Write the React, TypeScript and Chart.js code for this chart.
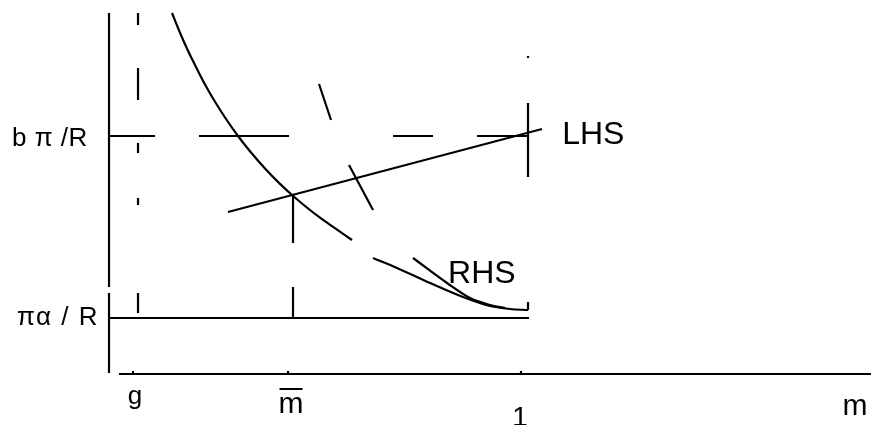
import { useEffect, useRef } from "react";
import Chart from "chart.js/auto";

// ---- value ranges (m on x, level on y) ----
const X_RANGE = [-0.2646, 1.8859];
const Y_RANGE = [-0.2143, 1.5714];

// ---- axes ----
const yAxisUpper: number[][] = [[0, 1.517], [0, 0.366]];
const yAxisLower: number[][] = [[0, 0.34], [0, 0.004]];
const xAxisLine: number[][] = [[0.0243, 0], [1.8495, 0]];

// ---- tick labels ----
const xTickLabels = ["g", "m\u0304", "1"];
const xTickValues = [0.0583, 0.4345, 1.0];
const xAxisTitle = "m";
const xAxisTitleValue = 1.8107;
const yTickLabels = ["b \u03c0 /R", "\u03c0\u03b1 / R"];
const yTickValues = [1.0, 0.2353];

// ---- horizontal levels ----
const piAlphaLine: number[][] = [[0, 0.2353], [1.0194, 0.2353]];
const bPiDashX: number[][] = [[0, 0.1117], [0.2184, 0.4369], [0.6893, 0.7864], [0.8932, 1.017]];

// ---- vertical dashed guides (x, and y-intervals) ----
const gGuideX = 0.0704;
const gGuideY: number[][] = [[1.517, 1.466], [1.286, 1.151], [0.971, 0.929], [0.739, 0.71], [0.34, 0.256]];
const mBarGuideX = 0.4466;
const mBarGuideY: number[][] = [[0.752, 0.55], [0.366, 0.235]];
const oneGuideX = 1.017;
const oneGuideY: number[][] = [[1.336, 1.328], [1.139, 0.828], [0.3025, 0.269]];

// ---- LHS line ----
const lhsLine: number[][] = [[0.2888, 0.6807], [1.051, 1.0294]];
const lhsLabel = "LHS";
const lhsLabelPos = [1.1], lhsLabelY = [1.017];

// ---- RHS curves ----
const rhsUpper: number[][] = [
  [0.1529, 1.5168], [0.1723, 1.4336], [0.1917, 1.358], [0.2087, 1.2983],
  [0.233, 1.2164], [0.2573, 1.1437], [0.2816, 1.0777], [0.3131, 1.0],
  [0.3422, 0.9357], [0.3786, 0.8634], [0.415, 0.7987], [0.4442, 0.7521],
  [0.4757, 0.7059], [0.5121, 0.6567], [0.551, 0.6097], [0.5898, 0.563],
];
const rhsLower: number[][] = [
  [0.6408, 0.4874], [0.699, 0.4454], [0.7791, 0.3824], [0.8592, 0.3235],
  [0.9248, 0.2857], [0.9733, 0.2731], [1.017, 0.2689],
];
const rhsSecond: number[][] = [
  [0.7379, 0.4874], [0.8204, 0.3824], [0.8762, 0.3193], [0.9248, 0.2899], [0.9612, 0.2773],
];
const rhsLabel = "RHS";
const rhsLabelPos = [0.8204], rhsLabelY = [0.4328];

// ---- short dashed diagonal ----
const diagA: number[][] = [[0.5097, 1.2185], [0.5388, 1.0672]];
const diagB: number[][] = [[0.5825, 0.8782], [0.6408, 0.6891]];

const pts = (a: number[][]) => a.map(([x, y]) => ({ x, y }));

export default function App() {
  const ref = useRef<HTMLCanvasElement | null>(null);
  useEffect(() => {
    if (!ref.current) return;
    const segs: { data: { x: number; y: number }[]; smooth?: boolean }[] = [];
    segs.push({ data: pts(yAxisUpper) }, { data: pts(yAxisLower) }, { data: pts(xAxisLine) });
    xTickValues.forEach((v) => segs.push({ data: pts([[v, 0], [v, 0.013]]) }));
    segs.push({ data: pts(piAlphaLine) });
    bPiDashX.forEach(([a, b]) => segs.push({ data: pts([[a, yTickValues[0]], [b, yTickValues[0]]]) }));
    gGuideY.forEach(([a, b]) => segs.push({ data: pts([[gGuideX, a], [gGuideX, b]]) }));
    mBarGuideY.forEach(([a, b]) => segs.push({ data: pts([[mBarGuideX, a], [mBarGuideX, b]]) }));
    oneGuideY.forEach(([a, b]) => segs.push({ data: pts([[oneGuideX, a], [oneGuideX, b]]) }));
    segs.push({ data: pts(lhsLine) });
    segs.push({ data: pts(rhsUpper), smooth: true }, { data: pts(rhsLower), smooth: true }, { data: pts(rhsSecond), smooth: true });
    segs.push({ data: pts(diagA) }, { data: pts(diagB) });

    const labelPlugin = {
      id: "labels",
      afterDatasetsDraw(chart: any) {
        const { ctx, scales } = chart;
        const xs = scales.x, ys = scales.y;
        ctx.save();
        ctx.fillStyle = "#000";
        const draw = (t: string, px: number, py: number, size: number, align: CanvasTextAlign, spacing = 0) => {
          ctx.font = `${size}px "Liberation Sans", Arial, sans-serif`;
          (ctx as any).letterSpacing = `${spacing}px`;
          ctx.textAlign = align;
          ctx.textBaseline = "alphabetic";
          ctx.fillText(t, px, py);
        };
        const base = ys.getPixelForValue(0);
        const xSizes = [26, 30, 28];
        const xBase = [30, 39, 52];
        const xOff = [2, 3, -1];
        xTickLabels.forEach((t, i) => draw(t, xs.getPixelForValue(xTickValues[i]) + xOff[i], base + xBase[i], xSizes[i], "center"));
        // overbar across the full width of m̄
        ctx.font = `30px "Liberation Sans", Arial, sans-serif`;
        (ctx as any).letterSpacing = "0px";
        const mw = ctx.measureText("m").width;
        const mc = xs.getPixelForValue(xTickValues[1]) + xOff[1];
        ctx.fillRect(mc - mw / 2 + 1, base + 14, mw - 2, 2);
        draw(xAxisTitle, xs.getPixelForValue(xAxisTitleValue), base + 41, 30, "center");
        const y0 = xs.getPixelForValue(0);
        draw(yTickLabels[0], y0 - 97, ys.getPixelForValue(yTickValues[0]) + 10, 26, "left", 0.5);
        draw(yTickLabels[1], y0 - 92, ys.getPixelForValue(yTickValues[1]) + 7, 26, "left", 1.5);
        draw(lhsLabel, xs.getPixelForValue(lhsLabelPos[0]), ys.getPixelForValue(lhsLabelY[0]) + 12, 32, "left");
        draw(rhsLabel, xs.getPixelForValue(rhsLabelPos[0]) + 1, ys.getPixelForValue(rhsLabelY[0]) + 12, 32, "left");
        ctx.restore();
      },
    };

    const chart = new Chart(ref.current, {
      type: "scatter",
      data: {
        datasets: segs.map((s) => ({
          data: s.data,
          showLine: true,
          borderColor: "#000",
          backgroundColor: "#000",
          borderWidth: 2.2,
          pointRadius: 0,
          fill: false,
          cubicInterpolationMode: s.smooth ? "monotone" : "default",
          tension: 0,
        })),
      },
      options: {
        animation: false,
        responsive: false,
        layout: { padding: 0 },
        events: [],
        plugins: { legend: { display: false }, tooltip: { enabled: false }, title: { display: false } },
        scales: {
          x: { type: "linear", min: X_RANGE[0], max: X_RANGE[1], display: false },
          y: { type: "linear", min: Y_RANGE[0], max: Y_RANGE[1], display: false },
        },
      },
      plugins: [labelPlugin],
    } as any);
    return () => chart.destroy();
  }, []);

  return (
    <div style={{ position: "absolute", left: 0, top: 0, width: 886, height: 425, background: "#fff" }}>
      <canvas ref={ref} width={886} height={425} />
    </div>
  );
}
